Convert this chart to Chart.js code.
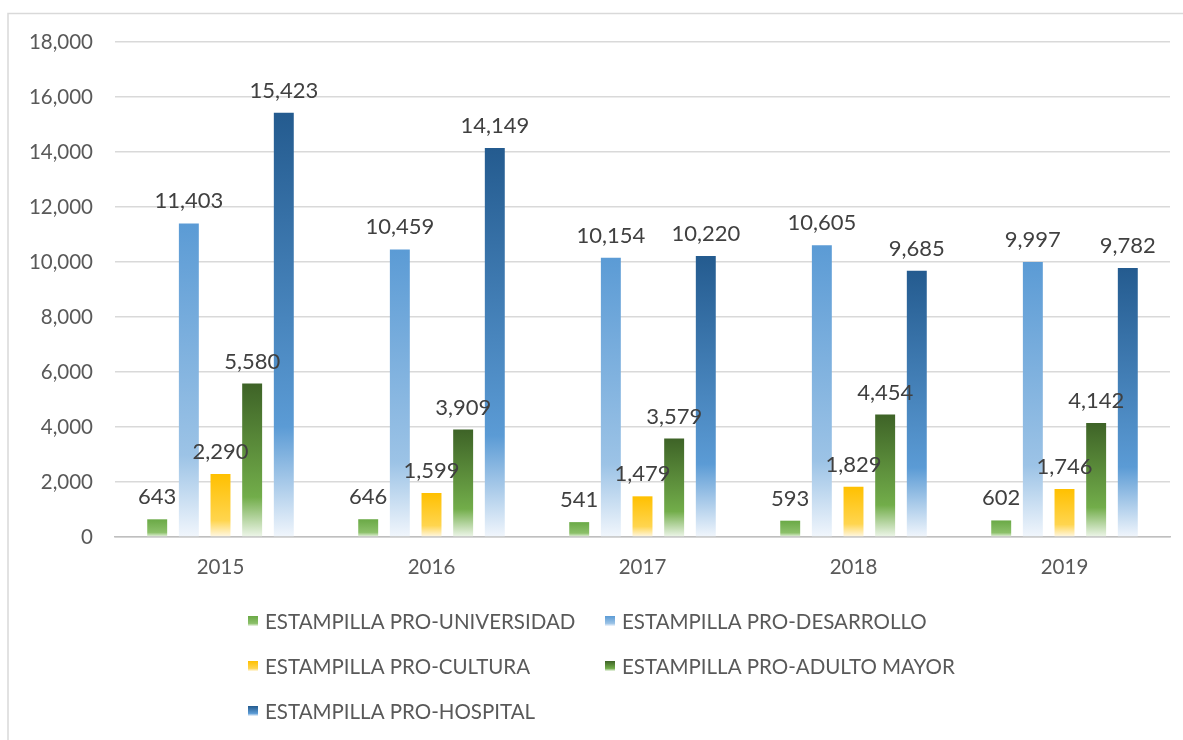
<!DOCTYPE html>
<html>
<head>
<meta charset="utf-8">
<script src="https://cdn.jsdelivr.net/npm/chart.js@4.4.0/dist/chart.umd.min.js"></script>
<style>
  html, body { margin: 0; padding: 0; background: #fff; }
  #wrap { width: 1183px; height: 740px; position: relative; }
</style>
</head>
<body>
<div id="wrap"><canvas id="estampillas" width="1183" height="740"></canvas></div>
<script>
// Datos
const years = ['2015', '2016', '2017', '2018', '2019'];
const seriesNames = [
  'ESTAMPILLA PRO-UNIVERSIDAD',
  'ESTAMPILLA PRO-DESARROLLO',
  'ESTAMPILLA PRO-CULTURA',
  'ESTAMPILLA PRO-ADULTO MAYOR',
  'ESTAMPILLA PRO-HOSPITAL'
];
const proUniversidad = [643, 646, 541, 593, 602];
const proDesarrollo = [11403, 10459, 10154, 10605, 9997];
const proCultura = [2290, 1599, 1479, 1829, 1746];
const proAdultoMayor = [5580, 3909, 3579, 4454, 4142];
const proHospital = [15423, 14149, 10220, 9685, 9782];

// colores del degradado: arriba, medio, abajo
const gradStops = [
  ['#6aa946', '#8cc06a', '#eef6e9'],
  ['#5b9bd5', '#9cc3e6', '#f1f6fc'],
  ['#ffc000', '#ffd54f', '#fff8e6'],
  ['#3e6327', '#72ad4a', '#eef6ea'],
  ['#245b8f', '#5b9bd5', '#f1f6fc']
];

const FONT = 'Lato, "Open Sans", sans-serif';

function barGradient(ctx, top, bottom, stops) {
  const g = ctx.createLinearGradient(0, top, 0, bottom);
  g.addColorStop(0, stops[0]);
  g.addColorStop(0.74, stops[1]);
  g.addColorStop(1, stops[2]);
  return g;
}

function fillFor(i) {
  return function (c) {
    const chart = c.chart;
    if (!chart.chartArea || c.type !== 'data') return gradStops[i][0];
    const y = chart.scales.y;
    const top = y.getPixelForValue(c.raw);
    const base = y.getPixelForValue(0);
    return barGradient(chart.ctx, top, base, gradStops[i]);
  };
}

const allSeries = [proUniversidad, proDesarrollo, proCultura, proAdultoMayor, proHospital];

// etiquetas de datos, leyenda y marco
const extras = {
  id: 'extras',
  beforeDraw(chart) {
    const c = chart.ctx;
    c.save();
    c.strokeStyle = '#d9d9d9';
    c.lineWidth = 1.5;
    c.beginPath();
    c.moveTo(8, 740);
    c.lineTo(8, 13.5);
    c.lineTo(1183, 13.5);
    c.stroke();
    c.restore();
  },
  afterDatasetsDraw(chart) {
    const c = chart.ctx;
    c.save();
    c.font = '22px ' + FONT;
    c.fillStyle = '#404040';
    c.textAlign = 'center';
    c.textBaseline = 'alphabetic';
    chart.data.datasets.forEach((ds, i) => {
      chart.getDatasetMeta(i).data.forEach((el, j) => {
        c.fillText(ds.data[j].toLocaleString('en-US'), el.x, el.y - 15);
      });
    });
    c.restore();
  },
  afterDraw(chart) {
    const c = chart.ctx;
    const cols = [248, 605];
    const rows = [621, 666, 711];
    c.save();
    c.font = '20.5px ' + FONT;
    c.textBaseline = 'middle';
    seriesNames.forEach((name, i) => {
      const x = cols[i % 2];
      const y = rows[Math.floor(i / 2)];
      c.fillStyle = barGradient(c, y - 5, y + 5, gradStops[i]);
      c.fillRect(x, y - 5, 10, 10);
      c.fillStyle = '#595959';
      c.fillText(name, x + 17, y + 1);
    });
    c.restore();
  }
};

const ctx = document.getElementById('estampillas').getContext('2d');
const chart = new Chart(ctx, {
  type: 'bar',
  data: {
    labels: years,
    datasets: allSeries.map((vals, i) => ({
      label: seriesNames[i],
      data: vals,
      backgroundColor: fillFor(i),
      borderWidth: 0,
      categoryPercentage: 0.75,
      barPercentage: 0.63
    }))
  },
  options: {
    responsive: false,
    animation: false,
    layout: { padding: { top: 42, right: 13, left: 0, bottom: 0 } },
    plugins: {
      legend: { display: false },
      tooltip: { enabled: false }
    },
    scales: {
      x: {
        grid: { display: false, drawTicks: false },
        border: { color: '#bfbfbf', width: 1.5 },
        ticks: { color: '#595959', font: { family: FONT, size: 20.5 }, padding: 18 },
        afterFit(s) { s.height = 203; }
      },
      y: {
        min: 0,
        max: 18000,
        ticks: {
          stepSize: 2000,
          color: '#595959',
          font: { family: FONT, size: 20.5 },
          padding: 22,
          callback: v => v.toLocaleString('en-US')
        },
        grid: { color: '#d9d9d9', lineWidth: 1.5, drawTicks: false },
        border: { display: false },
        afterFit(s) { s.width = 115; }
      }
    }
  },
  plugins: [extras]
});
</script>
</body>
</html>
